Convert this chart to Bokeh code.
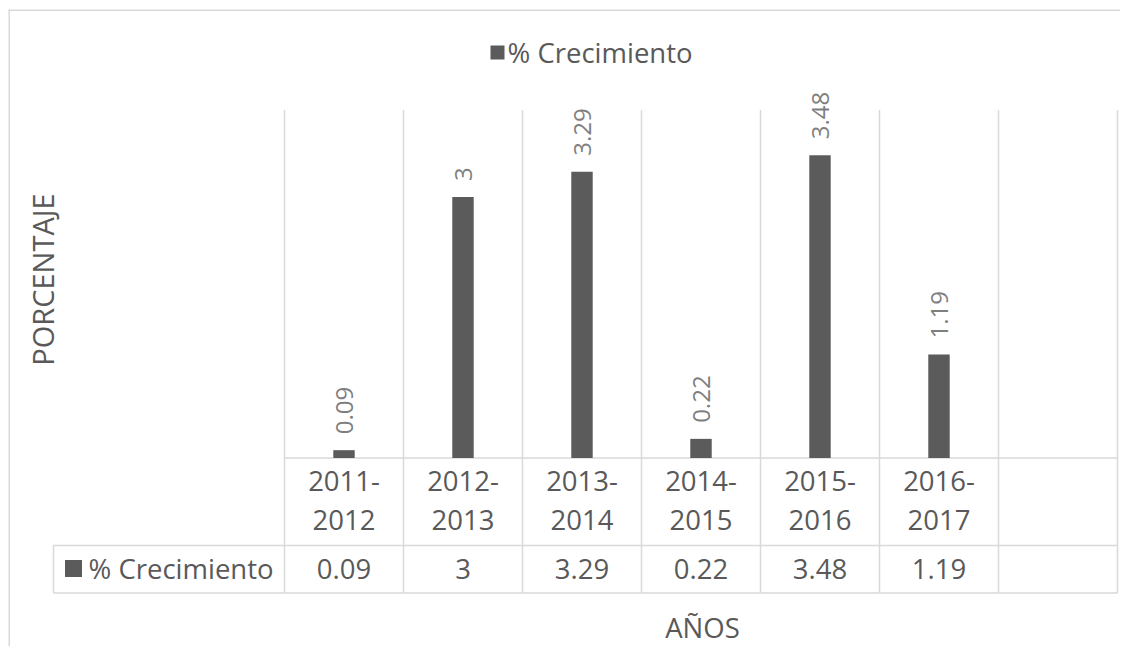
import math
from bokeh.plotting import figure
from bokeh.models import Range1d
from bokeh.core.properties import value
from bokeh.embed import file_html
from bokeh.resources import INLINE

# ---- data ----
periods = ["2011-2012", "2012-2013", "2013-2014", "2014-2015", "2015-2016", "2016-2017", ""]
growth = [0.09, 3, 3.29, 0.22, 3.48, 1.19]
series_name = "% Crecimiento"
x_title = "AÑOS"
y_title = "PORCENTAJE"

# ---- layout (screenshot pixels) ----
W, H = 1120, 646
ORIGIN = 0         # observed screen position of the figure's top-left corner
CAT_W = 119.0      # pixels per category
X0_PX = 284.0      # x of category axis start
UNIT_Y = 87.0      # pixels per percentage unit
Y0_PX = 457.5      # y of value 0


def X(px):
    return (px - X0_PX) / CAT_W


def Y(py):
    return (Y0_PX - py) / UNIT_Y


BAR = "#5b5b5b"
TXT = "#595959"
LBL = "#7f7f7f"
GRID = "#d9d9d9"
FONT = value("Open Sans")

p = figure(width=W, height=H, output_backend="svg", toolbar_location=None,
           x_range=Range1d(X(ORIGIN), X(ORIGIN + W)), y_range=Range1d(Y(ORIGIN + H), Y(ORIGIN)),
           min_border=0, outline_line_color=None)
p.xaxis.visible = False
p.yaxis.visible = False
p.xgrid.visible = False
p.ygrid.visible = False
p.background_fill_color = "white"
p.border_fill_color = "white"

n = len(periods)
centers = [i + 0.5 for i in range(n)]
ymax = 4

# chart border (left and top only visible)
p.segment(x0=[X(8.75), X(8)], y0=[Y(9), Y(9.75)], x1=[X(8.75), X(1200)], y1=[Y(700), Y(9.75)],
          line_color=GRID, line_width=1.5)

# vertical gridlines / table columns
row1_bot = Y(545)
row2_bot = Y(592.5)
hdr_left = X(53)
p.segment(x0=list(range(n + 1)), y0=[ymax] * (n + 1), x1=list(range(n + 1)), y1=[row2_bot] * (n + 1),
          line_color=GRID, line_width=1.5)
# horizontal table lines
p.segment(x0=[0, hdr_left, hdr_left], y0=[0, row1_bot, row2_bot],
          x1=[n, n, n], y1=[0, row1_bot, row2_bot], line_color=GRID, line_width=1.5)
p.segment(x0=[hdr_left], y0=[row1_bot], x1=[hdr_left], y1=[row2_bot], line_color=GRID, line_width=1.5)

# bars
p.vbar(x=centers[:len(growth)], top=growth, bottom=0, width=0.18, fill_color=BAR, line_color=None)

# data labels (rotated)
lbls = [f"{v:g}" for v in growth]
p.text(x=centers[:len(growth)], y=growth, text=lbls, angle=math.pi / 2, text_align="left",
       text_baseline="middle", y_offset=-16, text_color=LBL, text_font=FONT, text_font_size="24px")

# category labels in table (two lines)
top_parts = [(s.split("-")[0] + "-") if s else "" for s in periods]
bot_parts = [s.split("-")[1] if s else "" for s in periods]
p.text(x=centers, y=[Y(480)] * n, text=top_parts, text_align="center", text_baseline="middle",
       text_color=TXT, text_font=FONT, text_font_size="27.5px")
p.text(x=centers, y=[Y(519)] * n, text=bot_parts, text_align="center", text_baseline="middle",
       text_color=TXT, text_font=FONT, text_font_size="27.5px")

# value row
p.text(x=centers[:len(growth)], y=[Y(568)] * len(growth), text=lbls, text_align="center",
       text_baseline="middle", text_color=TXT, text_font=FONT, text_font_size="27.5px")
# header cell of value row
p.scatter(x=[X(73)], y=[Y(568)], marker="square", size=17, fill_color=BAR, line_color=None)
p.text(x=[X(88)], y=[Y(568)], text=[series_name], text_align="left", text_baseline="middle",
       text_color=TXT, text_font=FONT, text_font_size="27.5px")

# legend at top
p.scatter(x=[X(497)], y=[Y(52)], marker="square", size=14, fill_color=BAR, line_color=None)
p.text(x=[X(507)], y=[Y(52)], text=[series_name], text_align="left", text_baseline="middle",
       text_color=TXT, text_font=FONT, text_font_size="27.5px")

# axis titles
p.text(x=[X(42)], y=[Y(279)], text=[y_title], angle=math.pi / 2, text_align="center",
       text_baseline="middle", text_color=TXT, text_font=FONT, text_font_size="29px")
p.text(x=[X(702)], y=[Y(627)], text=[x_title], text_align="center", text_baseline="middle",
       text_color=TXT, text_font=FONT, text_font_size="27.5px")

open("out.html", "w").write(file_html(p, INLINE))
